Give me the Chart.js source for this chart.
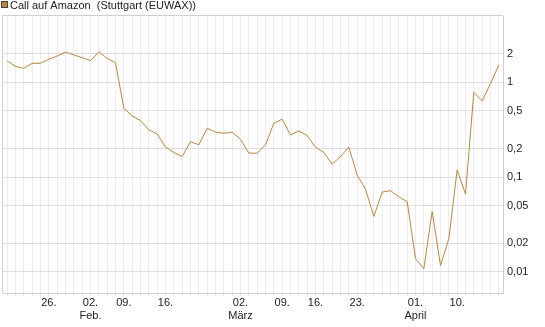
<!DOCTYPE html>
<html>
<head>
<meta charset="utf-8">
<script src="https://cdn.jsdelivr.net/npm/chart.js@4/dist/chart.umd.min.js"></script>
<style>
  html, body { margin: 0; padding: 0; background: #fff; }
</style>
</head>
<body>
<canvas id="chart" width="545" height="327"></canvas>
<script>
const seriesName = 'Call auf Amazon  (Stuttgart (EUWAX))';

const tradingDays = [
  '19.01.', '20.01.', '21.01.', '22.01.', '23.01.', '26.01.', '27.01.', '28.01.', '29.01.', '30.01.',
  '02.02.', '03.02.', '04.02.', '05.02.', '09.02.', '10.02.', '11.02.', '12.02.', '13.02.', '16.02.',
  '17.02.', '18.02.', '19.02.', '20.02.', '23.02.', '24.02.', '25.02.', '26.02.', '02.03.', '03.03.',
  '04.03.', '05.03.', '06.03.', '09.03.', '10.03.', '11.03.', '12.03.', '16.03.', '17.03.', '18.03.',
  '19.03.', '20.03.', '23.03.', '24.03.', '25.03.', '26.03.', '27.03.', '30.03.', '31.03.', '01.04.',
  '02.04.', '07.04.', '08.04.', '09.04.', '10.04.', '13.04.', '14.04.', '15.04.', '16.04.', '17.04.'
];

const prices = [
  1.68, 1.47, 1.40, 1.585, 1.585, 1.75, 1.89, 2.08, 1.94, 1.82,
  1.69, 2.10, 1.79, 1.61, 0.532, 0.442, 0.394, 0.315, 0.286, 0.207,
  0.182, 0.165, 0.237, 0.219, 0.328, 0.298, 0.290, 0.298, 0.251, 0.179,
  0.179, 0.219, 0.370, 0.408, 0.279, 0.307, 0.274, 0.207, 0.182, 0.137,
  0.165, 0.207, 0.105, 0.075, 0.0385, 0.0695, 0.072, 0.062, 0.0554, 0.0138,
  0.0108, 0.0434, 0.0117, 0.0224, 0.119, 0.0662, 0.785, 0.636, 0.97, 1.52
];

const xTickDays = ['26.01.', '02.02.', '09.02.', '16.02.', '02.03.', '09.03.', '16.03.', '23.03.', '01.04.', '10.04.'];
const monthLabels = { '02.02.': 'Feb.', '02.03.': 'März', '01.04.': 'April' };
const yTicks = [0.01, 0.02, 0.05, 0.1, 0.2, 0.5, 1, 2];

const lineColor = '#b8873f';
const fontFamily = '"Liberation Sans", Arial, sans-serif';

// Rahmen links und oben
const frame = {
  id: 'frame',
  beforeDatasetsDraw(chart) {
    const { ctx, chartArea: a } = chart;
    ctx.save();
    ctx.strokeStyle = '#cfcfcf';
    ctx.lineWidth = 1;
    ctx.beginPath();
    ctx.moveTo(a.left - 0.5, a.bottom);
    ctx.lineTo(a.left - 0.5, a.top - 0.5);
    ctx.lineTo(a.right, a.top - 0.5);
    ctx.stroke();
    ctx.restore();
  }
};

// Legende oben links
const smallLegend = {
  id: 'smallLegend',
  afterDraw(chart) {
    const ctx = chart.ctx;
    const ds = chart.data.datasets[0];
    ctx.save();
    ctx.fillStyle = ds.borderColor;
    ctx.fillRect(2, 2, 6, 6);
    ctx.strokeStyle = '#444';
    ctx.lineWidth = 1;
    ctx.strokeRect(1.5, 1.5, 6, 6);
    ctx.fillStyle = '#222';
    ctx.font = '11px ' + fontFamily;
    ctx.textBaseline = 'alphabetic';
    ctx.fillText(ds.label, 10, 9);
    ctx.restore();
  }
};

new Chart(document.getElementById('chart').getContext('2d'), {
  type: 'line',
  data: {
    datasets: [{
      label: seriesName,
      data: prices.map((p, i) => ({ x: i, y: p })),
      borderColor: lineColor,
      borderWidth: 1,
      pointRadius: 0,
      tension: 0,
      fill: false
    }]
  },
  options: {
    responsive: false,
    animation: false,
    devicePixelRatio: 1,
    layout: { padding: { top: 16, left: 3, right: 0, bottom: 0 } },
    plugins: {
      legend: { display: false },
      tooltip: { enabled: false }
    },
    scales: {
      x: {
        type: 'linear',
        position: 'bottom',
        min: -0.5,
        max: tradingDays.length - 0.5,
        afterBuildTicks: scale => {
          scale.ticks = tradingDays.map((d, i) => ({ value: i }));
        },
        afterFit: scale => { scale.height = 34; },
        grid: { color: '#ececec', tickColor: '#e4e4e4', tickLength: 3 },
        border: { color: '#cfcfcf' },
        ticks: {
          autoSkip: false,
          maxRotation: 0,
          padding: 0,
          color: '#222',
          font: { family: fontFamily, size: 11 },
          callback: value => {
            const d = tradingDays[value];
            if (!xTickDays.includes(d)) return '';
            const day = d.slice(0, 3);
            return monthLabels[d] ? [day, monthLabels[d]] : day;
          }
        }
      },
      y: {
        type: 'logarithmic',
        position: 'right',
        min: 0.006,
        max: 5,
        afterBuildTicks: scale => {
          scale.ticks = yTicks.map(v => ({ value: v }));
        },
        afterFit: scale => { scale.width = 42; },
        grid: { color: '#dddddd', drawTicks: false },
        border: { color: '#cfcfcf' },
        ticks: {
          padding: 4,
          color: '#222',
          font: { family: fontFamily, size: 11 },
          callback: value => String(value).replace('.', ',')
        }
      }
    }
  },
  plugins: [frame, smallLegend]
});
</script>
</body>
</html>
